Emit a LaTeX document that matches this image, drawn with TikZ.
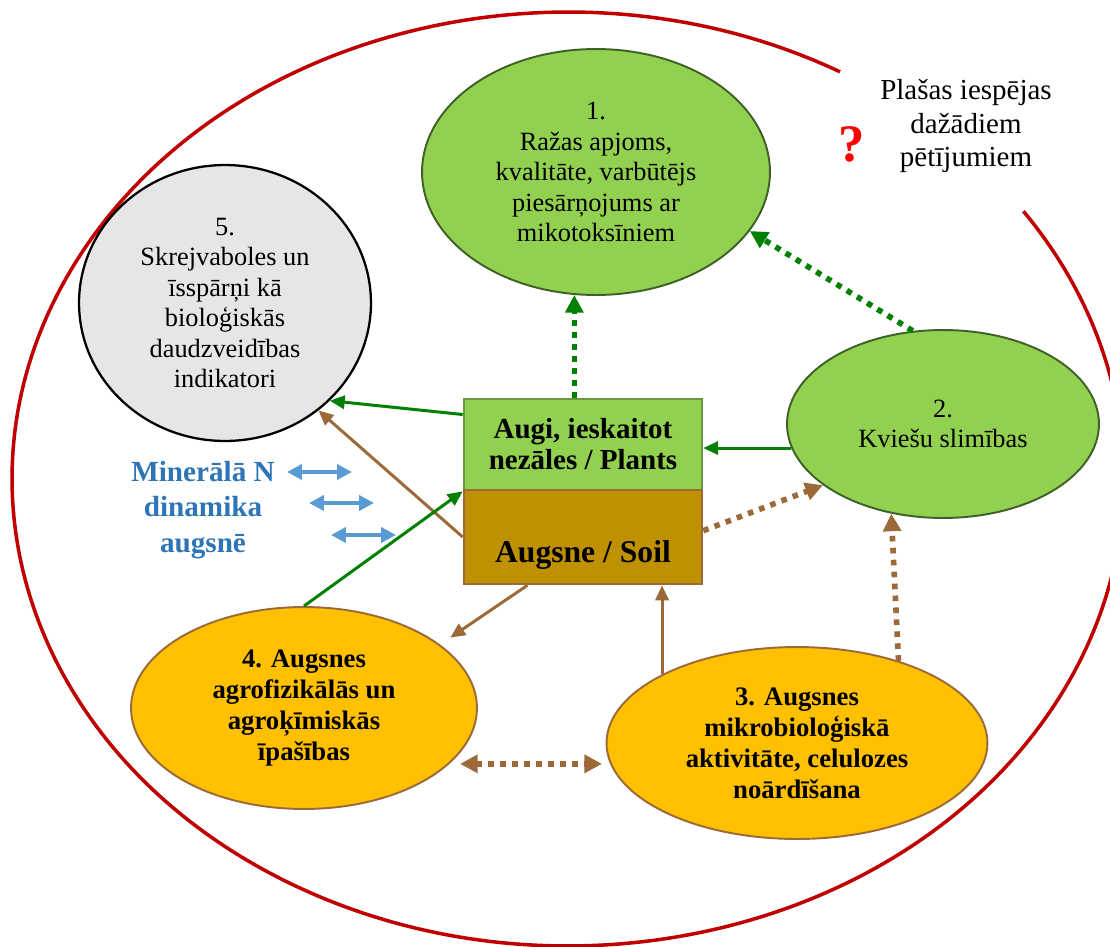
\documentclass[tikz,border=0pt]{standalone}
\usepackage{fontspec}
\setmainfont{Liberation Serif}
\usetikzlibrary{arrows.meta,shapes.geometric}
\definecolor{lgreen}{HTML}{92D050}
\definecolor{dgreen}{HTML}{3F6128}
\definecolor{pgreen}{HTML}{6B9A3E}
\definecolor{agreen}{HTML}{008000}
\definecolor{soilfill}{HTML}{BF9000}
\definecolor{brownc}{HTML}{9C6A38}
\definecolor{orangef}{HTML}{FFC000}
\definecolor{greyf}{HTML}{E7E6E6}
\definecolor{bluet}{HTML}{2E75B6}
\definecolor{bluea}{HTML}{5B9BD5}
\definecolor{ringred}{HTML}{C00000}
\begin{document}
\begin{tikzpicture}[x=0.02cm,y=-0.02cm,
  ell/.style={ellipse, inner sep=0pt, align=center, line width=1.1pt, font=\fontsize{15}{17.4}\selectfont},
  greenell/.style={ell, fill=lgreen, draw=dgreen},
  orangeell/.style={ell, fill=orangef, draw=brownc, font=\fontsize{15.2}{17.6}\selectfont\bfseries},
  boxnode/.style={rectangle, inner sep=0pt, align=center, line width=1.5pt, minimum width=4.76cm},
  garrow/.style={draw=agreen, line width=1.7pt, -{Triangle[length=8.5pt,width=7.5pt]}},
  barrow/.style={draw=brownc, line width=1.7pt, -{Triangle[length=8.5pt,width=7.5pt]}},
  gdot/.style={draw=agreen, line width=3.2pt, dash pattern=on 3.2pt off 3.6pt, -{Triangle[length=10pt,width=10pt]}},
  bdot/.style={draw=brownc, line width=3.2pt, dash pattern=on 3.2pt off 3.6pt, -{Triangle[length=10pt,width=10pt]}},
  bdotboth/.style={draw=brownc, line width=3.2pt, dash pattern=on 3.2pt off 3.6pt, {Triangle[length=10pt,width=10pt]}-{Triangle[length=10pt,width=10pt]}},
  bluearrow/.style={draw=bluea, line width=2.2pt, {Triangle[length=8.5pt,width=8.5pt]}-{Triangle[length=8.5pt,width=8.5pt]}},
  redring/.style={draw=ringred, line width=2pt}
]
\useasboundingbox (0,0) rectangle (1110,947);
\clip (0,0) rectangle (1110,947);

% outer red ring with a gap
\coordinate (C) at (568,479);
\draw[redring] (C) ++(60.7:11.12cm and 9.34cm) arc[start angle=60.7, end angle=395, x radius=11.12cm, y radius=9.34cm];

% nodes
\node[greenell, minimum width=6.96cm, minimum height=4.92cm] (e1) at (596,172)
  {1.\\Ražas apjoms,\\kvalitāte, varbūtējs\\piesārņojums ar\\mikotoksīniem};
\node[ell, fill=greyf, draw=black, line width=1.3pt, minimum width=5.84cm, minimum height=5.52cm] (e5) at (225,303)
  {5.\\Skrejvaboles un\\īsspārņi kā\\bioloģiskās\\daudzveidības\\indikatori};
\node[greenell, minimum width=6.24cm, minimum height=3.76cm] (e2) at (943,424)
  {2.\\Kviešu slimības};
\node[orangeell, minimum width=6.92cm, minimum height=4.04cm] (e4) at (304,708)
  {4. Augsnes\\agrofizikālās un\\agroķīmiskās\\īpašības};
\node[orangeell, minimum width=7.62cm, minimum height=3.84cm] (e3) at (797,743)
  {3. Augsnes\\mikrobioloģiskā\\aktivitāte, celulozes\\noārdīšana};

\node[boxnode, fill=lgreen, draw=pgreen, minimum height=1.82cm, font=\fontsize{16.5}{17.6}\selectfont\bfseries] (plants) at (583,444.5)
  {Augi, ieskaitot\\nezāles / Plants};
\node[boxnode, fill=soilfill, draw=brownc, minimum height=1.88cm] (soil) at (583,537) {};
\node[anchor=base, inner sep=0pt, font=\fontsize{18}{20}\selectfont\bfseries] (soiltxt) at (583,562) {Augsne / Soil};

\node[align=center, text=bluet, font=\fontsize{16.6}{20}\selectfont\bfseries] (mintxt) at (203,510)
  {Minerālā N\\dinamika\\augsnē};
\node[align=center, font=\fontsize{16.5}{18.8}\selectfont] (wide) at (966,126)
  {Plašas iespējas\\dažādiem\\pētījumiem};
\node[text=red, font=\fontsize{30}{32}\selectfont\bfseries] (qm) at (852,144) {?};

% blue double arrows
\coordinate (b1a) at (287,472); \coordinate (b1b) at (352,472);
\coordinate (b2a) at (309,503); \coordinate (b2b) at (374,503);
\coordinate (b3a) at (331,535); \coordinate (b3b) at (396,535);
\draw[bluearrow] (b1a) -- (b1b);
\draw[bluearrow] (b2a) -- (b2b);
\draw[bluearrow] (b3a) -- (b3b);

% connectors
\draw[gdot] (e1.260 |- plants.north) -- (e1.260);
\draw[gdot] (e2.108) -- (e1.339);
\draw[garrow] (e2.189) -- (plants.east |- e2.189);
\draw[garrow] (plants.166) -- (e5.317);
\draw[barrow] (soil.west) -- (e5.311);
\draw[garrow] (e4.north) -- (plants.south west);
\draw[barrow, shorten >=7pt] (soil.221) -- (e4.25);
\draw[barrow] (e3.153) -- (e3.153 |- soil.south);
\draw[bdot] (soil.3) -- (e2.207);
\draw[bdot] (e3.39) -- (e2.240);
\draw[bdotboth, shorten <=6pt, shorten >=6pt] (e4.339) -- (e3.188 |- e4.339);
\end{tikzpicture}
\end{document}
